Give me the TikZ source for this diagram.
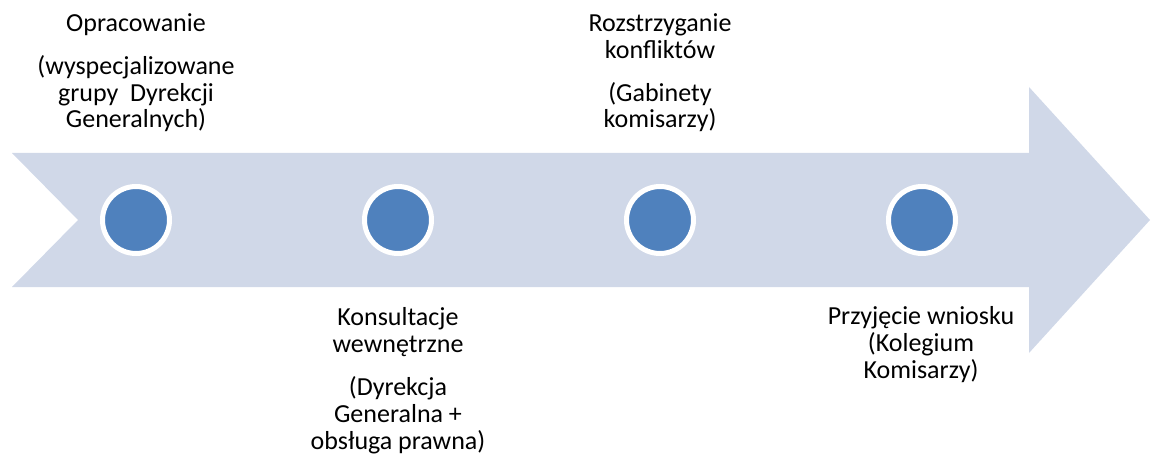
\documentclass[tikz,border=0pt]{standalone}
\usepackage{fontspec}
\setmainfont{Carlito}
\usepackage{tikz}
\definecolor{ArrowGrey}{RGB}{208,216,232}
\definecolor{DotBlue}{RGB}{79,129,189}
\newcommand{\lblfont}{\fontsize{26}{26.8}\selectfont}

\begin{document}
\begin{tikzpicture}[x=1pt,y=-1pt]
      \useasboundingbox (0,0) rectangle (1151,457);
      % the big arrow
      \fill[ArrowGrey] (12,153) -- (1029,153) -- (1029,87) -- (1150,220) -- (1029,353)
        -- (1029,287) -- (12,287) -- (78,220) -- cycle;
      \node[circle,fill=DotBlue,draw=white,line width=5pt,minimum size=67pt] (op) at (136,220) {};
      \node[circle,fill=DotBlue,draw=white,line width=5pt,minimum size=67pt] (kons) at (398,220) {};
      \node[circle,fill=DotBlue,draw=white,line width=5pt,minimum size=67pt] (roz) at (660,220) {};
      \node[circle,fill=DotBlue,draw=white,line width=5pt,minimum size=67pt] (przy) at (922,220) {};
      % labels, anchored at the baseline of their last line
      \node[align=center,font=\lblfont,anchor=base,inner sep=0pt] (opl) at (136,128)
        {Opracowanie\\[16pt](wyspecjalizowane\\grupy\ \ Dyrekcji\\Generalnych)};
      \node[align=center,font=\lblfont,anchor=base,inner sep=0pt] (konsl) at (398,449)
        {Konsultacje\\wewnętrzne\\[16pt](Dyrekcja\\Generalna +\\obsługa prawna)};
      \node[align=center,font=\lblfont,anchor=base,inner sep=0pt] (rozl) at (660,128)
        {Rozstrzyganie\\konfliktów\\[16pt](Gabinety\\komisarzy)};
      \node[align=center,font=\lblfont,anchor=base,inner sep=0pt] (przyl) at (921,378)
        {Przyjęcie wniosku\\(Kolegium\\Komisarzy)};
    \end{tikzpicture}
\end{document}
